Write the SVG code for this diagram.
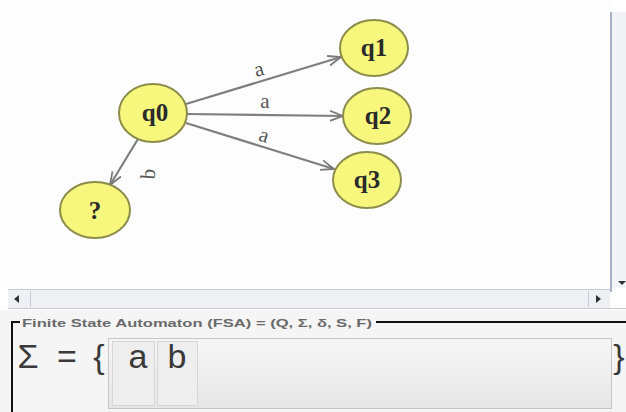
<svg xmlns="http://www.w3.org/2000/svg" width="626" height="412" viewBox="0 0 626 412">
  <defs>
    <marker id="arr" viewBox="0 0 14 12" refX="13" refY="6" markerWidth="14" markerHeight="12" markerUnits="userSpaceOnUse" orient="auto">
      <path d="M0,1 L13,6 L0,11" fill="none" stroke="#7a7a7a" stroke-width="1.8"/>
    </marker>
    <linearGradient id="fieldg" x1="0" y1="0" x2="0" y2="1">
      <stop offset="0" stop-color="#f6f6f6"/>
      <stop offset="1" stop-color="#e6e6e6"/>
    </linearGradient>
  </defs>
  <style>
    .node ellipse { fill: #f7f77e; stroke: #8c8c4a; stroke-width: 2; }
    .node text { font-family: "Liberation Serif", serif; font-weight: bold; font-size: 25px; fill: #2a2a2a; text-anchor: middle; }
    .edge { stroke: #7f7f7f; stroke-width: 2.2; fill: none; marker-end: url(#arr); }
    .elabel { font-family: "Liberation Serif", serif; font-size: 21px; fill: #555; text-anchor: middle; }
    .big { font-family: "Liberation Sans", sans-serif; font-size: 34px; fill: #3a3a3a; text-anchor: middle; }
  </style>

  <!-- canvas background -->
  <rect x="0" y="0" width="626" height="412" fill="#ffffff"/>
  <rect x="0" y="0" width="610" height="288" fill="#fdfdfe"/>

  <!-- vertical scrollbar -->
  <rect x="610" y="12" width="16" height="276" fill="#f1f3f7"/>
  <line x1="611" y1="12" x2="611" y2="292" stroke="#a9b2c4" stroke-width="2"/>
  <path d="M618,281 L626,281 L622,285 Z" fill="#333"/>

  <!-- horizontal scrollbar -->
  <rect x="8" y="290" width="602" height="18" fill="#eef0f3"/>
  <line x1="8" y1="289.5" x2="610" y2="289.5" stroke="#c4c8cf" stroke-width="1"/>
  <line x1="8" y1="308.5" x2="626" y2="308.5" stroke="#c4c8cf" stroke-width="1"/>
  <line x1="30.5" y1="291" x2="30.5" y2="307" stroke="#c8ccd2" stroke-width="1"/>
  <line x1="588.5" y1="291" x2="588.5" y2="307" stroke="#c8ccd2" stroke-width="1"/>
  <path d="M14,299 L19,295 L19,303 Z" fill="#333"/>
  <path d="M601,299 L596,295 L596,303 Z" fill="#333"/>

  <!-- FSA panel -->
  <rect x="0" y="310" width="626" height="102" fill="#f5f5f5"/>
  <text x="22" y="327" font-family="Liberation Sans, sans-serif" font-weight="bold" font-size="11.5" fill="#6a6a6a" textLength="350" lengthAdjust="spacingAndGlyphs">Finite State Automaton (FSA) = (Q, Σ, δ, S, F)</text>
  <line x1="376" y1="322" x2="626" y2="322" stroke="#111" stroke-width="2"/>
  <polyline points="20,322 12,322 12,412" fill="none" stroke="#111" stroke-width="2"/>

  <text class="big" x="28" y="368">Σ</text>
  <text class="big" x="67" y="368">=</text>
  <text class="big" x="99" y="368">{</text>
  <rect x="108.5" y="338.5" width="503" height="70" fill="url(#fieldg)" stroke="#c6c6c6" stroke-width="1"/>
  <rect x="112.5" y="341.5" width="42" height="64" fill="#eeeeee" stroke="#d6d6d6" stroke-width="1"/>
  <rect x="157.5" y="341.5" width="40" height="64" fill="#eeeeee" stroke="#d6d6d6" stroke-width="1"/>
  <text class="big" x="138" y="368">a</text>
  <text class="big" x="177" y="368">b</text>
  <text class="big" x="619" y="368">}</text>

  <!-- connectors -->
  <g id="connectors">
    <line class="edge" x1="186" y1="104" x2="341" y2="57"/>
    <line class="edge" x1="187" y1="114" x2="343" y2="116"/>
    <line class="edge" x1="186" y1="123" x2="334" y2="169"/>
    <line class="edge" x1="138" y1="139" x2="110" y2="185"/>
    <text class="elabel" x="259" y="76" transform="rotate(-16 259 70)">a</text>
    <text class="elabel" x="265" y="108">a</text>
    <text class="elabel" x="264" y="142" transform="rotate(17 264 136)">a</text>
    <text class="elabel" x="149" y="180" transform="rotate(-85 149 174)">b</text>
  </g>

  <!-- nodes -->
  <g id="q0" class="node">
    <ellipse cx="153" cy="113" rx="34" ry="29"/>
    <text x="155" y="121">q0</text>
  </g>
  <g id="q1" class="node">
    <ellipse cx="374" cy="48" rx="34" ry="28"/>
    <text x="374" y="56">q1</text>
  </g>
  <g id="q2" class="node">
    <ellipse cx="377" cy="116" rx="34" ry="28"/>
    <text x="378" y="124">q2</text>
  </g>
  <g id="q3" class="node">
    <ellipse cx="367" cy="180" rx="34" ry="28"/>
    <text x="367" y="188">q3</text>
  </g>
  <g id="qx" class="node">
    <ellipse cx="95" cy="210" rx="35" ry="28"/>
    <text x="95" y="219">?</text>
  </g>
</svg>
